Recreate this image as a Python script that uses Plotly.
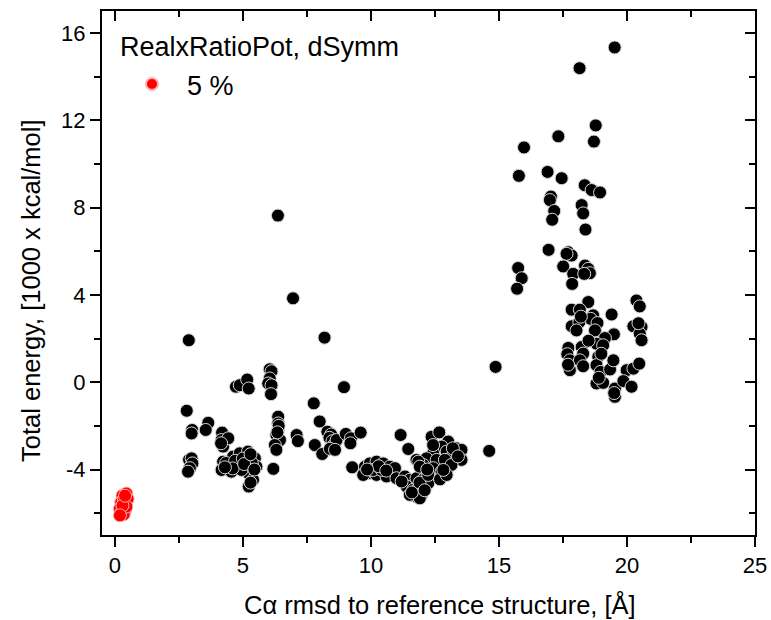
import plotly.graph_objects as go

# Red series (5 %)
red_x = [0.3, 0.45, 0.4, 0.25, 0.35, 0.5, 0.2, 0.3, 0.4, 0.25, 0.35, 0.45, 0.3, 0.2, 0.4]
red_y = [-5.2, -5.1, -5.3, -5.5, -5.4, -5.35, -5.8, -5.9, -5.85, -6.0, -6.05, -5.7, -5.65, -6.1, -5.2]

# Black series (not in legend)
black_pts = [
    (2.89, 1.92), (6.37, 7.63), (6.96, 3.84), (8.19, 2.04), (8.95, -0.23), (7.77, -0.97), (8.0, -1.8),
    (2.81, -1.31), (14.87, 0.7), (14.62, -3.15),
    (4.73, -0.21), (4.88, -0.14), (5.17, 0.12), (5.23, -0.29),
    (6.05, 0.59), (6.12, 0.5), (6.05, 0.17), (5.99, -0.06), (6.12, -0.14), (6.1, -0.55),
    (3.02, -2.19), (3.0, -2.35), (3.65, -1.86), (3.55, -2.19),
    (2.9, -3.55), (3.0, -3.49), (3.03, -3.72), (2.93, -3.94), (2.86, -4.1),
    (4.19, -2.31), (4.17, -2.65), (4.23, -2.95), (4.43, -2.57), (4.15, -2.8),
    (6.38, -1.58), (6.38, -1.89), (6.38, -2.19), (6.31, -2.42), (6.45, -2.65), (6.25, -2.88), (6.31, -3.1),
    (6.4, -2.0), (6.35, -2.3),
    (7.1, -2.42), (7.15, -2.7), (7.81, -2.88), (8.1, -3.29),
    (8.3, -2.27), (8.45, -2.4), (8.38, -2.55), (8.5, -2.7), (8.55, -2.9), (8.66, -2.65), (8.4, -3.05), (8.6, -3.1),
    (9.02, -2.37), (9.22, -2.57), (9.2, -2.8), (9.6, -2.31), (9.27, -3.9),
    (4.23, -3.64), (4.43, -3.87), (4.62, -3.41), (4.88, -3.26), (5.2, -3.18), (5.47, -3.49), (5.14, -3.56),
    (4.82, -3.87), (5.14, -3.94), (5.53, -3.87), (5.27, -4.25), (5.4, -4.47), (5.23, -4.78), (4.17, -4.02),
    (4.55, -4.1), (4.95, -4.02), (4.35, -3.7), (4.7, -3.6), (5.0, -3.5), (5.35, -3.7), (4.6, -3.95),
    (5.05, -3.75), (5.3, -3.3), (4.3, -3.9), (5.45, -4.0), (5.3, -4.6),
    (6.19, -3.97),
    (9.77, -3.87), (9.96, -3.72), (10.22, -3.64), (10.48, -3.72), (10.74, -3.87), (10.94, -3.94), (9.9, -4.17),
    (10.22, -4.25), (10.61, -4.32), (11.0, -4.4), (9.7, -4.25), (10.09, -4.02), (10.42, -4.02), (10.3, -3.85),
    (10.6, -4.05), (9.85, -4.0),
    (11.16, -2.42), (11.46, -3.06),
    (11.33, -4.32), (11.52, -4.47), (11.78, -4.4), (12.04, -4.47), (11.4, -4.78), (11.65, -4.93), (11.85, -4.86),
    (12.11, -4.78), (11.78, -5.24), (11.98, -5.16), (11.52, -5.16), (11.2, -4.55), (12.24, -4.63), (11.91, -5.32),
    (11.6, -5.05), (11.9, -4.6), (12.1, -4.95),
    (12.37, -2.5), (12.67, -2.3), (13.02, -2.72), (12.76, -2.95), (12.43, -3.26), (12.96, -3.18), (13.35, -3.03),
    (13.54, -3.1), (13.22, -3.33), (11.78, -3.56), (12.17, -3.49), (12.57, -3.56), (12.89, -3.56), (13.54, -3.56),
    (13.15, -3.79), (12.04, -3.79), (12.43, -3.94), (12.76, -4.1), (12.24, -4.25), (12.7, -4.45), (12.96, -4.25),
    (12.43, -2.88), (13.2, -3.03), (11.85, -3.64), (11.91, -3.87), (12.83, -4.02), (13.4, -3.4), (12.2, -4.0),
    (19.52, 15.33), (18.15, 14.38), (18.78, 11.76), (18.71, 11.02), (17.32, 11.26), (15.98, 10.75), (15.78, 9.45),
    (16.9, 9.63), (17.45, 9.34), (18.35, 9.02), (18.62, 8.8), (18.95, 8.69), (17.03, 8.5), (16.99, 8.34),
    (18.23, 8.11), (18.29, 7.73), (17.16, 7.84), (17.08, 7.44), (18.38, 6.99), (16.94, 6.06), (17.71, 5.95),
    (17.84, 5.8), (17.64, 5.88), (15.75, 5.23), (15.89, 4.76), (15.71, 4.28), (17.51, 5.3), (18.36, 5.34),
    (18.49, 5.19), (17.9, 4.96), (17.86, 4.5), (18.55, 4.99), (18.33, 4.96),
    (18.49, 3.67), (17.84, 3.32), (18.16, 3.32), (19.4, 3.1), (18.68, 3.06), (18.58, 2.9), (17.84, 2.56),
    (18.14, 2.75), (18.03, 2.37), (18.85, 2.71), (18.75, 2.37), (20.37, 3.74), (20.5, 3.47), (20.25, 2.56),
    (20.57, 2.53), (20.5, 2.22), (20.57, 1.92), (19.49, 2.19), (19.14, 2.02), (18.81, 1.76), (19.07, 1.69),
    (17.71, 1.57), (17.67, 1.28), (17.77, 1.0), (18.23, 1.61), (18.29, 1.31), (18.16, 1.0), (17.77, 0.55),
    (18.29, 0.73), (18.88, 1.16), (18.81, 0.78), (18.97, 0.47), (19.34, 0.58), (19.47, 1.0), (19.99, 0.55),
    (20.25, 0.62), (20.48, 0.85), (18.81, -0.06), (19.07, -0.03), (19.53, -0.29), (19.86, 0.05), (20.18, -0.21),
    (19.53, -0.67), (19.5, -0.5), (18.2, 3.0), (18.5, 1.9), (19.0, 1.3), (17.7, 0.8), (20.45, 2.7), (18.9, 0.2),
]
black_x = [p[0] for p in black_pts]
black_y = [p[1] for p in black_pts]

# Tick labels (hyphen-minus as in the reference)
x_tickvals = [0, 5, 10, 15, 20, 25]
x_ticktext = ["0", "5", "10", "15", "20", "25"]
y_tickvals = [-4, 0, 4, 8, 12, 16]
y_ticktext = ["-4", "0", "4", "8", "12", "16"]

legend_title = "RealxRatioPot, dSymm"
red_name = "\u00a0\u00a05 %"
x_title = "Cα rmsd to reference structure, [Å]"
y_title = "Total energy, [1000 x kcal/mol]"

FONT = "Arial, 'Liberation Sans', sans-serif"

fig = go.Figure()
fig.add_trace(go.Scatter(
    x=black_x, y=black_y, mode="markers", showlegend=False,
    marker=dict(size=13, color="black", line=dict(color="#d8d8d8", width=1)),
))
fig.add_trace(go.Scatter(
    x=red_x, y=red_y, mode="markers", name=red_name,
    marker=dict(size=13, color="#ff0000", line=dict(color="#ffb0b0", width=1)),
))
# invisible trace to carry the mirrored axes
fig.add_trace(go.Scatter(x=[None], y=[None], xaxis="x2", yaxis="y2", showlegend=False, hoverinfo="skip"))

axis_common = dict(showgrid=False, zeroline=False, linecolor="black", linewidth=2,
                   tickcolor="black", tickwidth=2, automargin=False)

L, R, T, B = 102, 16, 11, 85
PW = 771 - L - R
PH = 620 - T - B

fig.update_layout(
    width=771, height=620,
    margin=dict(l=L, r=R, t=T, b=B),
    paper_bgcolor="white", plot_bgcolor="white",
    font=dict(family=FONT, color="black", size=22),
    xaxis=dict(**axis_common, range=[-0.5, 25], tickmode="array", tickvals=x_tickvals, ticktext=x_ticktext,
               ticks="outside", ticklen=10, showline=True, mirror=False,
               minor=dict(tickmode="linear", tick0=0, dtick=2.5, ticks="outside", ticklen=6, tickwidth=2, tickcolor="black"),
               tickfont=dict(size=22)),
    yaxis=dict(**axis_common, range=[-7, 17], tickmode="array", tickvals=y_tickvals, ticktext=y_ticktext,
               ticks="outside", ticklen=10, showline=True, mirror=False,
               minor=dict(tickmode="linear", tick0=0, dtick=2, ticks="outside", ticklen=6, tickwidth=2, tickcolor="black"),
               tickfont=dict(size=22)),
    xaxis2=dict(**axis_common, overlaying="x", side="top", range=[-0.5, 25], tick0=0, dtick=5,
                ticks="inside", ticklen=10, showline=True, showticklabels=False,
                minor=dict(dtick=2.5, ticks="inside", ticklen=6, tickwidth=2, tickcolor="black")),
    yaxis2=dict(**axis_common, overlaying="y", side="right", range=[-7, 17], tick0=0, dtick=4,
                ticks="inside", ticklen=10, showline=True, showticklabels=False,
                minor=dict(dtick=2, ticks="inside", ticklen=6, tickwidth=2, tickcolor="black")),
    legend=dict(x=(132 - L) / PW, y=1 - (60 - T) / PH, xanchor="left", yanchor="top",
                bgcolor="rgba(0,0,0,0)", font=dict(size=27), itemsizing="constant"),
    annotations=[
        dict(text=legend_title, x=(118 - L) / PW, y=1 - (47 - T) / PH, xref="paper", yref="paper",
             xanchor="left", yanchor="middle", showarrow=False, font=dict(size=27)),
        dict(text=x_title, x=(440 - L) / PW, y=-(604 - T - PH) / PH, xref="paper", yref="paper",
             xanchor="center", yanchor="middle", showarrow=False, font=dict(size=25.5)),
        dict(text=y_title, x=-(L - 31) / PW, y=1 - (291 - T) / PH, xref="paper", yref="paper",
             xanchor="center", yanchor="middle", textangle=-90, showarrow=False, font=dict(size=25.5)),
    ],
)

fig.write_html("out.html")
